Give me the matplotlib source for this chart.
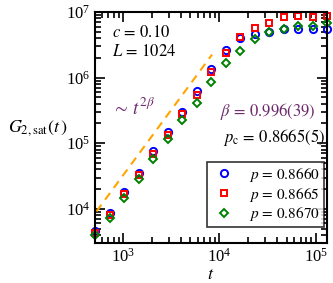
import numpy as np
import matplotlib
matplotlib.use("Agg")
import matplotlib.pyplot as plt

plt.rcParams['font.family'] = ['Liberation Serif', 'DejaVu Serif']
plt.rcParams['mathtext.fontset'] = 'stix'

# tempos: 512 * 2^(k/2)
t = 512 * 2 ** (np.arange(17) / 2)

g_8660 = [4590, 8730, 17870, 34780, 76000, 149600, 302000, 636000, 1.37e6,
          2.64e6, 3.97e6, 4.57e6, 5.01e6, 5.45e6, 5.51e6, 5.51e6, 5.6e6]
g_8665 = [4320, 8040, 16630, 32750, 69600, 133400, 278800, 552000, 1.216e6,
          2.35e6, 4.11e6, 5.64e6, 6.72e6, 8.48e6, 8.69e6, 8.30e6, 8.69e6]
g_8670 = [3990, 7310, 14760, 28180, 57440, 114600, 225700, 414000, 857000,
          1.67e6, 2.54e6, 3.84e6, 4.91e6, 5.51e6, 6.12e6, 6.18e6, 6.73e6]

# reta guia ~ t^(2 beta)
beta = 0.996
t_fit = np.array([530, 8400])
g_fit = 9250 * (t_fit / 533) ** (2 * beta)

fig = plt.figure(figsize=(3.33, 2.83), dpi=100)
ax = fig.add_axes([0.2853, 0.140, 0.6967, 0.8176])

ax.plot(t_fit, g_fit, '--', color='#FFA500', lw=1.5, dashes=(4, 3))

ax.plot(t, g_8660, 'o', mfc='none', mec='#0000FF', mew=1.4, ms=5.2,
        label=r'$p\, =\, 0.8660$', clip_on=False)
ax.plot(t, g_8665, 's', mfc='none', mec='#FF0000', mew=1.4, ms=4.8,
        label=r'$p\, =\, 0.8665$', clip_on=False)
ax.plot(t, g_8670, 'D', mfc='none', mec='#008000', mew=1.4, ms=4.2,
        label=r'$p\, =\, 0.8670$', clip_on=False)

ax.set_xscale('log')
ax.set_yscale('log')
ax.set_xlim(512, 131072)
ax.set_ylim(2980, 1e7)

ax.tick_params(which='both', direction='in', top=True, right=True,
               labelsize=12, width=1.2)
ax.tick_params(which='major', length=7)
ax.tick_params(which='minor', length=4)
for s in ax.spines.values():
    s.set_linewidth(1.5)

ax.set_xlabel(r'$t$', fontsize=13, labelpad=0)
ax.set_ylabel(r'$G_{2,\mathrm{sat}}(t\,)$', fontsize=13, rotation=0,
              ha='right', va='center')
ax.yaxis.set_label_coords(-0.12, 0.5)

ax.text(0.075, 0.89, r'$c\, =\, 0.10$', transform=ax.transAxes, fontsize=12)
ax.text(0.075, 0.81, r'$L\, =\, 1024$', transform=ax.transAxes, fontsize=12)
purple = '#6E2A6E'
ax.text(0.075, 0.56, r'$\sim\, t^{2\beta}$', transform=ax.transAxes,
        fontsize=13.5, color=purple)
ax.text(0.54, 0.55, r'$\beta\, =\, 0.996(39)$', transform=ax.transAxes,
        fontsize=12, color=purple)
ax.text(0.55, 0.44, r'$p_\mathrm{c}\, =\, 0.8665(5)$', transform=ax.transAxes,
        fontsize=12)

leg = ax.legend(loc='lower right', fontsize=11, frameon=True, fancybox=False,
                edgecolor='black', handlelength=1.8, handletextpad=0.7,
                borderpad=0.25, labelspacing=0.12, borderaxespad=0,
                bbox_to_anchor=(0.985, 0.07))
leg.get_frame().set_linewidth(1.2)

fig.savefig('out.png', dpi=100)
